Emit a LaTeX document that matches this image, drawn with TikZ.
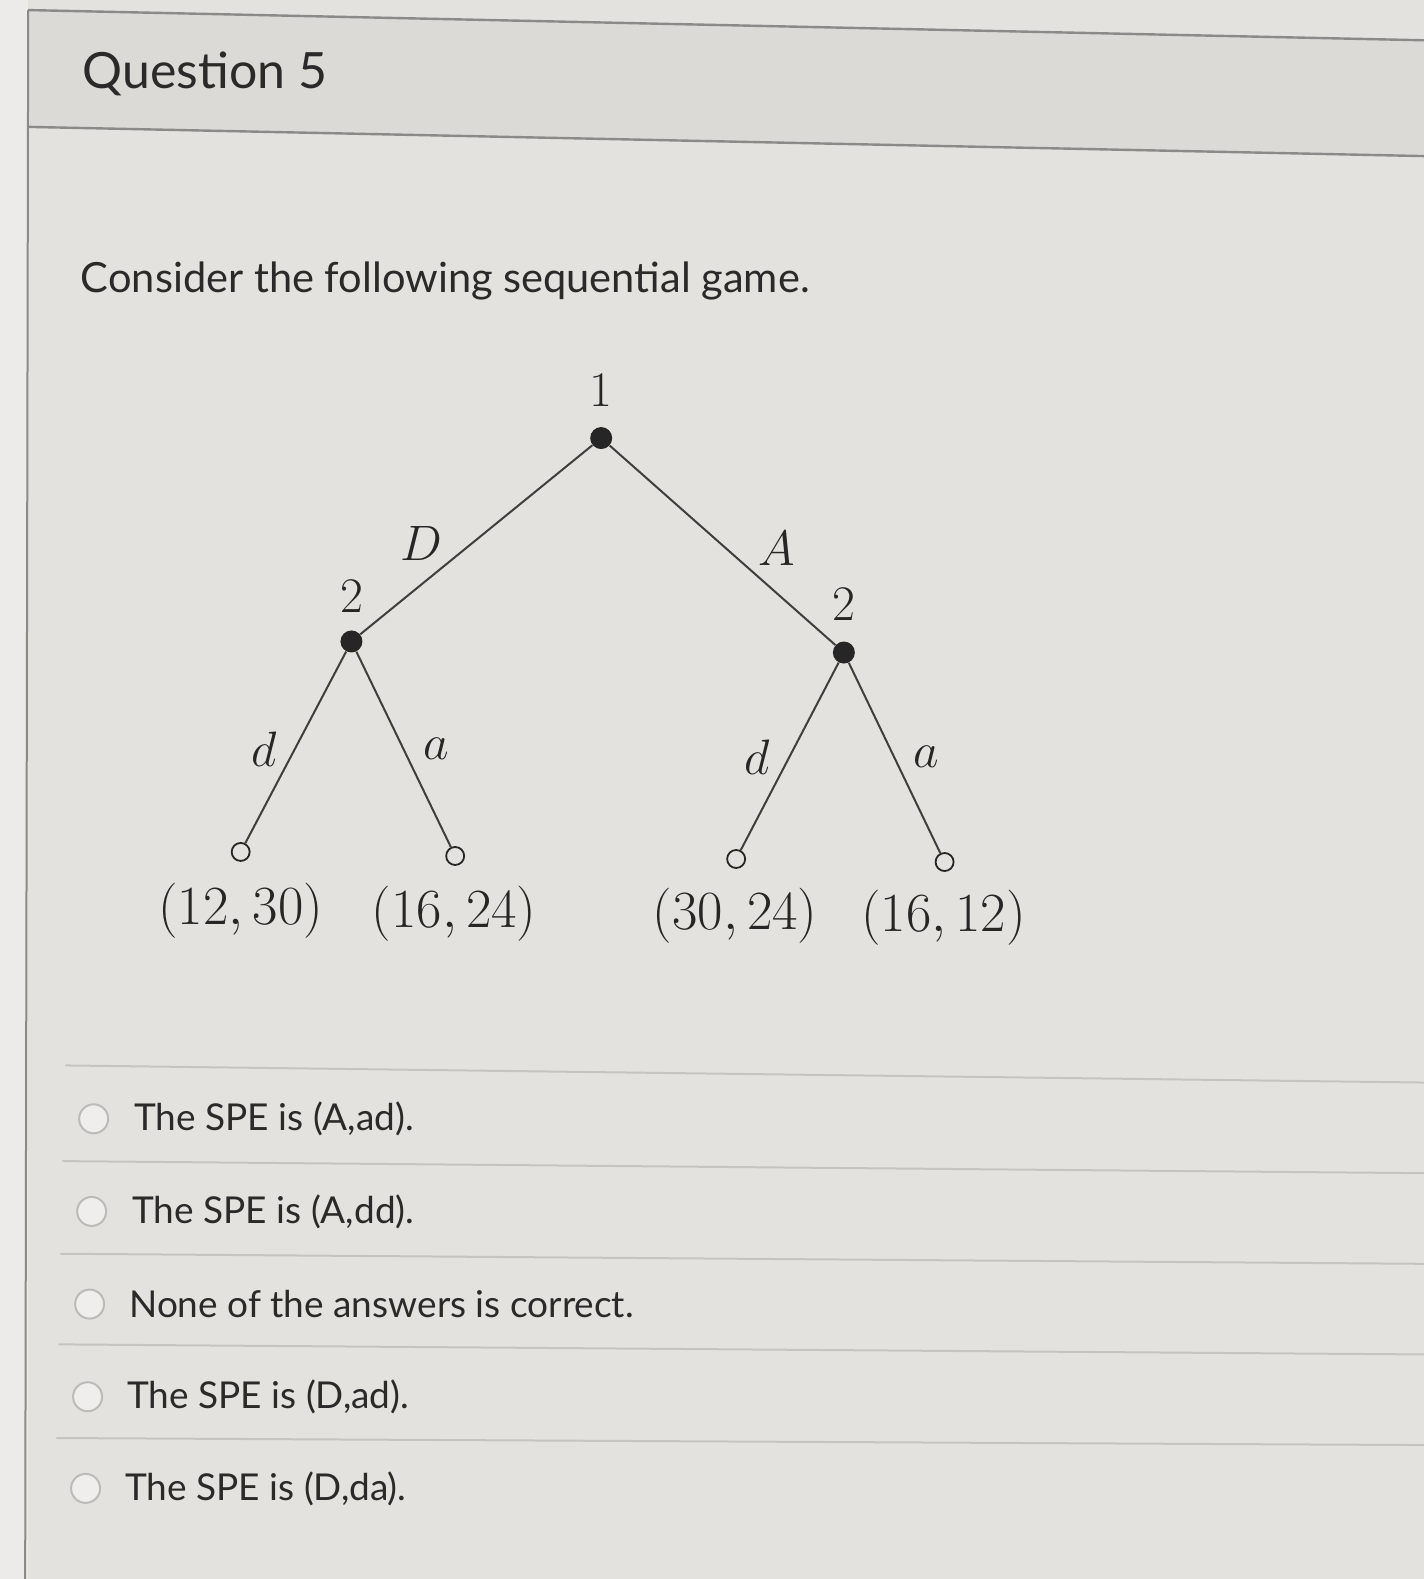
\documentclass[tikz,border=0pt]{standalone}
\usepackage{graphicx}
\usepackage{fontspec}
\setmainfont{Lato}
\definecolor{bg}{HTML}{E4E2DF}
\definecolor{hdr}{HTML}{DCDAD7}
\definecolor{lft}{HTML}{ECEBE9}
\definecolor{txt}{HTML}{2B292A}
\definecolor{rule}{HTML}{8C8A88}
\definecolor{sep}{HTML}{C6C4C1}
\definecolor{radio}{HTML}{BDBBB9}
\definecolor{edge}{HTML}{403E3E}
\newcommand{\payoff}[1]{\scalebox{1.11}{$#1$}}
\begin{document}
\begin{tikzpicture}[x=0.50354pt,y=-0.50354pt,
  dec/.style={circle,fill=black!85,inner sep=0pt,minimum size=11pt},
  term/.style={circle,draw=black!85,fill=bg,line width=0.9pt,inner sep=0pt,minimum size=9pt},
  br/.style={draw=edge,line width=1pt},
  mlab/.style={text=black!85,inner sep=0pt,font=\fontsize{24}{24}\selectfont},
  opt/.style={anchor=west,text=txt,inner sep=0pt,font=\fontsize{18.5}{18.5}\selectfont},
  rad/.style={circle,draw=radio,fill=bg!60!white,line width=1pt,inner sep=0pt,minimum size=14.5pt},
  seprule/.style={draw=sep,line width=1pt}]
\useasboundingbox (0,0) rectangle (1414,1568);
\fill[lft] (0,0) rectangle (1414,1568);
\fill[bg] (28,0) rectangle (1414,1568);
\fill[hdr] (28,10) -- (1414,40) -- (1414,155) -- (28,126) -- cycle;
\draw[rule,line width=1.2pt] (28,10) -- (1414,40);
\draw[rule,line width=1.2pt] (28,126) -- (1414,155);
\draw[rule,line width=1pt] (28,10) -- (25,1568);
\node[anchor=west,text=txt,inner sep=0pt,font=\fontsize{25}{25}\selectfont] (title) at (82,73) {Question 5};
\node[anchor=west,text=txt,inner sep=0pt,font=\fontsize{20.8}{20.8}\selectfont] (intro) at (80,279) {Consider the following sequential game.};
% tree
\node[dec] (r) at (597,435) {};
\node[dec] (l) at (349,637) {};
\node[dec] (rr) at (838,648) {};
\node[term] (t1) at (239,846) {};
\node[term] (t2) at (452,850) {};
\node[term] (t3) at (731,853) {};
\node[term] (t4) at (938,856) {};
\draw[br] (r) -- (l);
\draw[br] (r) -- (rr);
\draw[br] (l) -- (t1);
\draw[br] (l) -- (t2);
\draw[br] (rr) -- (t3);
\draw[br] (rr) -- (t4);
\node[mlab] (n1) at (597,388) {$1$};
\node[mlab] (n2l) at (349,592) {$2$};
\node[mlab] (n2r) at (838,600) {$2$};
\node[mlab] (lD) at (418,540) {$D$};
\node[mlab] (lA) at (771,545) {$A$};
\node[mlab] (ld1) at (262,744) {$d$};
\node[mlab] (la1) at (433,744) {$a$};
\node[mlab] (ld2) at (752,752) {$d$};
\node[mlab] (la2) at (920,752) {$a$};
\node[mlab] (p1) at (239,904) {\payoff{(12,30)}};
\node[mlab] (p2) at (451,907) {\payoff{(16,24)}};
\node[mlab] (p3) at (730,909) {\payoff{(30,24)}};
\node[mlab] (p4) at (937,911) {\payoff{(16,12)}};
% options
\draw[seprule] (65,1058) -- (1414,1075);
\draw[seprule] (62,1153) -- (1414,1165);
\draw[seprule] (60,1245) -- (1414,1255);
\draw[seprule] (58,1335) -- (1414,1345);
\draw[seprule] (56,1428) -- (1414,1435);
\node[rad] (r1) at (93,1111) {};
\node[rad] (r2) at (91,1203) {};
\node[rad] (r3) at (89,1295) {};
\node[rad] (r4) at (87,1387) {};
\node[rad] (r5) at (85,1478) {};
\node[opt] (o1) at (133,1111) {The SPE is (A,ad).};
\node[opt] (o2) at (131,1203) {The SPE is (A,dd).};
\node[opt] (o3) at (128,1295) {None of the answers is correct.};
\node[opt] (o4) at (126,1387) {The SPE is (D,ad).};
\node[opt] (o5) at (124,1478) {The SPE is (D,da).};
\end{tikzpicture}
\end{document}
